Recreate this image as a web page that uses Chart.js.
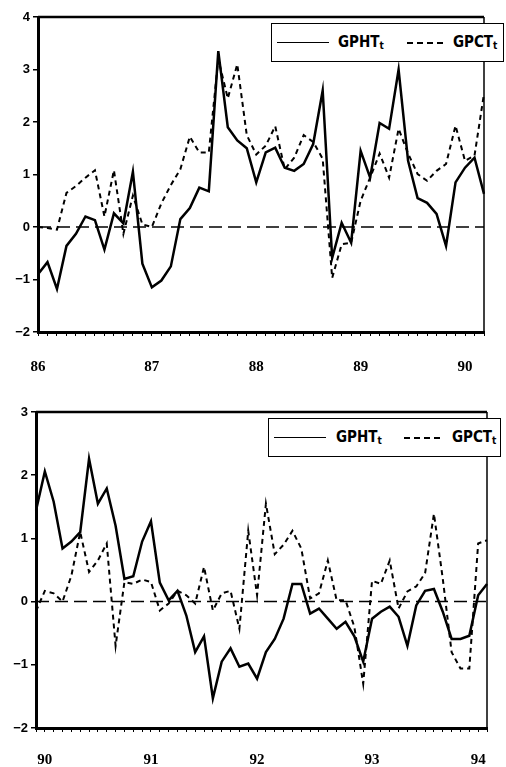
<!DOCTYPE html>
<html>
<head>
<meta charset="utf-8">
<script src="https://cdn.jsdelivr.net/npm/chart.js@4.4.1/dist/chart.umd.min.js"></script>
<style>
  body { margin: 0; background: #fff; }
  #wrap { position: relative; width: 506px; height: 767px; overflow: hidden; }
  canvas { position: absolute; left: 0; }
  #topChart { top: 0; }
  #bottomChart { top: 385px; }
  .legend {
    position: absolute; width: 231px; height: 37px;
    border: 1.5px solid #000; background: #fff;
    font: bold 15px 'Liberation Sans Narrow', 'DejaVu Sans Condensed', sans-serif; color: #000;
  }
  .legend .solid { position: absolute; left: 5px; top: 18px; width: 52px; height: 0; border-top: 1.5px solid #000; }
  .legend .dash {
    position: absolute; left: 135px; top: 18px; width: 37px; height: 1.5px;
    background: repeating-linear-gradient(90deg, #000 0 6px, transparent 6px 10px);
  }
  .legend span { position: absolute; top: 9px; }
  .legend sub { font-size: 10px; vertical-align: -2px; }
</style>
</head>
<body>
<div id="wrap">
  <canvas id="topChart" width="506" height="380"></canvas>
  <canvas id="bottomChart" width="506" height="382"></canvas>
  <div class="legend" style="left:271px; top:23px;">
    <div class="solid"></div><span style="left:66px;">GPHT<sub>t</sub></span>
    <div class="dash"></div><span style="left:181px;">GPCT<sub>t</sub></span>
  </div>
  <div class="legend" style="left:268px; top:418px;">
    <div class="solid"></div><span style="left:67px;">GPHT<sub>t</sub></span>
    <div class="dash"></div><span style="left:183px;">GPCT<sub>t</sub></span>
  </div>
</div>
<script>
// 1986 - 1990 panel
const topLabels = [
  '86', '', '', '', '', '', '', '', '', '', '', '',
  '87', '', '', '', '', '', '', '', '', '', '',
  '88', '', '', '', '', '', '', '', '', '', '',
  '89', '', '', '', '', '', '', '', '', '', '',
  '90', '', ''
];
const topGPHT = [
  -0.9, -0.67, -1.18, -0.36, -0.13, 0.2, 0.13, -0.43, 0.26, 0.07,
  1.05, -0.7, -1.15, -1.02, -0.75, 0.15, 0.36, 0.75, 0.68,
  3.35, 1.9, 1.65, 1.5, 0.85, 1.42, 1.51, 1.13, 1.07, 1.2, 1.58,
  2.6, -0.59, 0.08, -0.3, 1.45, 0.94, 1.98, 1.87, 3.0, 1.26,
  0.55, 0.46, 0.25, -0.36, 0.85, 1.13, 1.32, 0.63
];
const topGPCT = [
  0.0, -0.02, -0.05, 0.65, 0.78, 0.94, 1.08, 0.2, 1.08, -0.13,
  0.6, 0.05, 0.0, 0.45, 0.8, 1.1, 1.72, 1.42, 1.42, 3.2,
  2.45, 3.1, 1.75, 1.38, 1.55, 1.92, 1.1, 1.32, 1.75, 1.62,
  1.3, -0.97, -0.33, -0.3, 0.5, 0.94, 1.4, 0.94, 1.87, 1.4,
  1.01, 0.88, 1.07, 1.2, 1.93, 1.26, 1.36, 2.54
];

// 1990 - 1994 panel
const bottomLabels = [
  '', '90', '', '', '', '', '', '', '', '', '', '', '',
  '91', '', '', '', '', '', '', '', '', '', '', '',
  '92', '', '', '', '', '', '', '', '', '', '', '', '',
  '93', '', '', '', '', '', '', '', '', '', '', '',
  '94', ''
];
const bottomGPHT = [
  1.44, 2.06, 1.58, 0.84, 0.95, 1.1, 2.26, 1.55, 1.79, 1.2,
  0.36, 0.4, 0.95, 1.27, 0.3, 0.02, 0.17, -0.22, -0.8, -0.55,
  -1.53, -0.95, -0.74, -1.03, -0.98, -1.22, -0.8, -0.59, -0.27, 0.28,
  0.28, -0.19, -0.11, -0.27, -0.43, -0.32, -0.55, -0.95, -0.27, -0.16,
  -0.08, -0.24, -0.7, -0.06, 0.17, 0.2, -0.16, -0.59, -0.59, -0.54,
  0.1, 0.28
];
const bottomGPCT = [
  -0.15, 0.17, 0.13, 0.0, 0.41, 1.1, 0.47, 0.65, 0.92, -0.7,
  0.31, 0.28, 0.35, 0.31, -0.14, -0.03, 0.17, 0.1, -0.03, 0.55,
  -0.14, 0.13, 0.17, -0.43, 1.12, 0.1, 1.55, 0.75, 0.9, 1.12,
  0.84, 0.05, 0.13, 0.65, 0.02, 0.02, -0.4, -1.3, 0.33, 0.28,
  0.65, -0.11, 0.16, 0.24, 0.45, 1.39, 0.36, -0.8, -1.06, -1.06,
  0.92, 0.97
];

// dashed zero line plus the top and right edges of the box
const framePlugin = {
  id: 'frame',
  beforeDatasetsDraw(chart) {
    const { ctx, chartArea: a, scales } = chart;
    const y0 = scales.y.getPixelForValue(0);
    ctx.save();
    ctx.strokeStyle = '#000';
    ctx.lineWidth = 1.5;
    ctx.setLineDash([13, 6]);
    ctx.beginPath();
    ctx.moveTo(a.left, y0);
    ctx.lineTo(a.right, y0);
    ctx.stroke();
    ctx.setLineDash([]);
    ctx.lineWidth = 2.5;
    ctx.beginPath();
    ctx.moveTo(a.left, a.top);
    ctx.lineTo(a.right, a.top);
    ctx.stroke();
    ctx.lineWidth = 1.5;
    ctx.beginPath();
    ctx.moveTo(a.right, a.top);
    ctx.lineTo(a.right, a.bottom);
    ctx.stroke();
    ctx.restore();
  }
};

function makePanel(canvasId, labels, gpht, gpct, yMin, yMax, yWidth, xHeight, xPad, padding) {
  return new Chart(document.getElementById(canvasId), {
    type: 'line',
    data: {
      labels: labels,
      datasets: [{
        label: 'GPHT',
        data: gpht,
        borderColor: '#000',
        borderWidth: 2.5,
        pointRadius: 0,
        tension: 0,
      }, {
        label: 'GPCT',
        data: gpct,
        borderColor: '#000',
        borderWidth: 2,
        borderDash: [5, 4],
        pointRadius: 0,
        tension: 0,
      }]
    },
    options: {
      responsive: false,
      animation: false,
      devicePixelRatio: 1,
      layout: { padding: padding },
      plugins: { legend: { display: false }, tooltip: { enabled: false } },
      scales: {
        x: {
          offset: false,
          afterFit: (s) => { s.height = xHeight; },
          border: { color: '#000', width: 3 },
          grid: { drawOnChartArea: false, color: '#000', lineWidth: 1, tickLength: 4 },
          ticks: {
            autoSkip: false, maxRotation: 0, padding: xPad, color: '#000',
            font: { family: "'Liberation Serif', serif", size: 15, weight: 'bold' }
          }
        },
        y: {
          min: yMin,
          max: yMax,
          afterFit: (s) => { s.width = yWidth; },
          border: { color: '#000', width: 3 },
          grid: { drawOnChartArea: false, color: '#000', lineWidth: 1.5, tickLength: 5 },
          ticks: {
            stepSize: 1, padding: 3, color: '#000',
            font: { family: "'Liberation Sans', sans-serif", size: 13, weight: 'bold' },
            callback: (v) => (v < 0 ? '\u2212' + Math.abs(v) : String(v))
          }
        }
      }
    },
    plugins: [framePlugin]
  });
}

makePanel('topChart', topLabels, topGPHT, topGPCT, -2, 4, 38, 48, 22, { top: 17, right: 1, left: 0, bottom: 0 });
makePanel('bottomChart', bottomLabels, bottomGPHT, bottomGPCT, -2, 3, 36, 39, 19, { top: 27, right: 4, left: 0, bottom: 0 });
</script>
</body>
</html>
